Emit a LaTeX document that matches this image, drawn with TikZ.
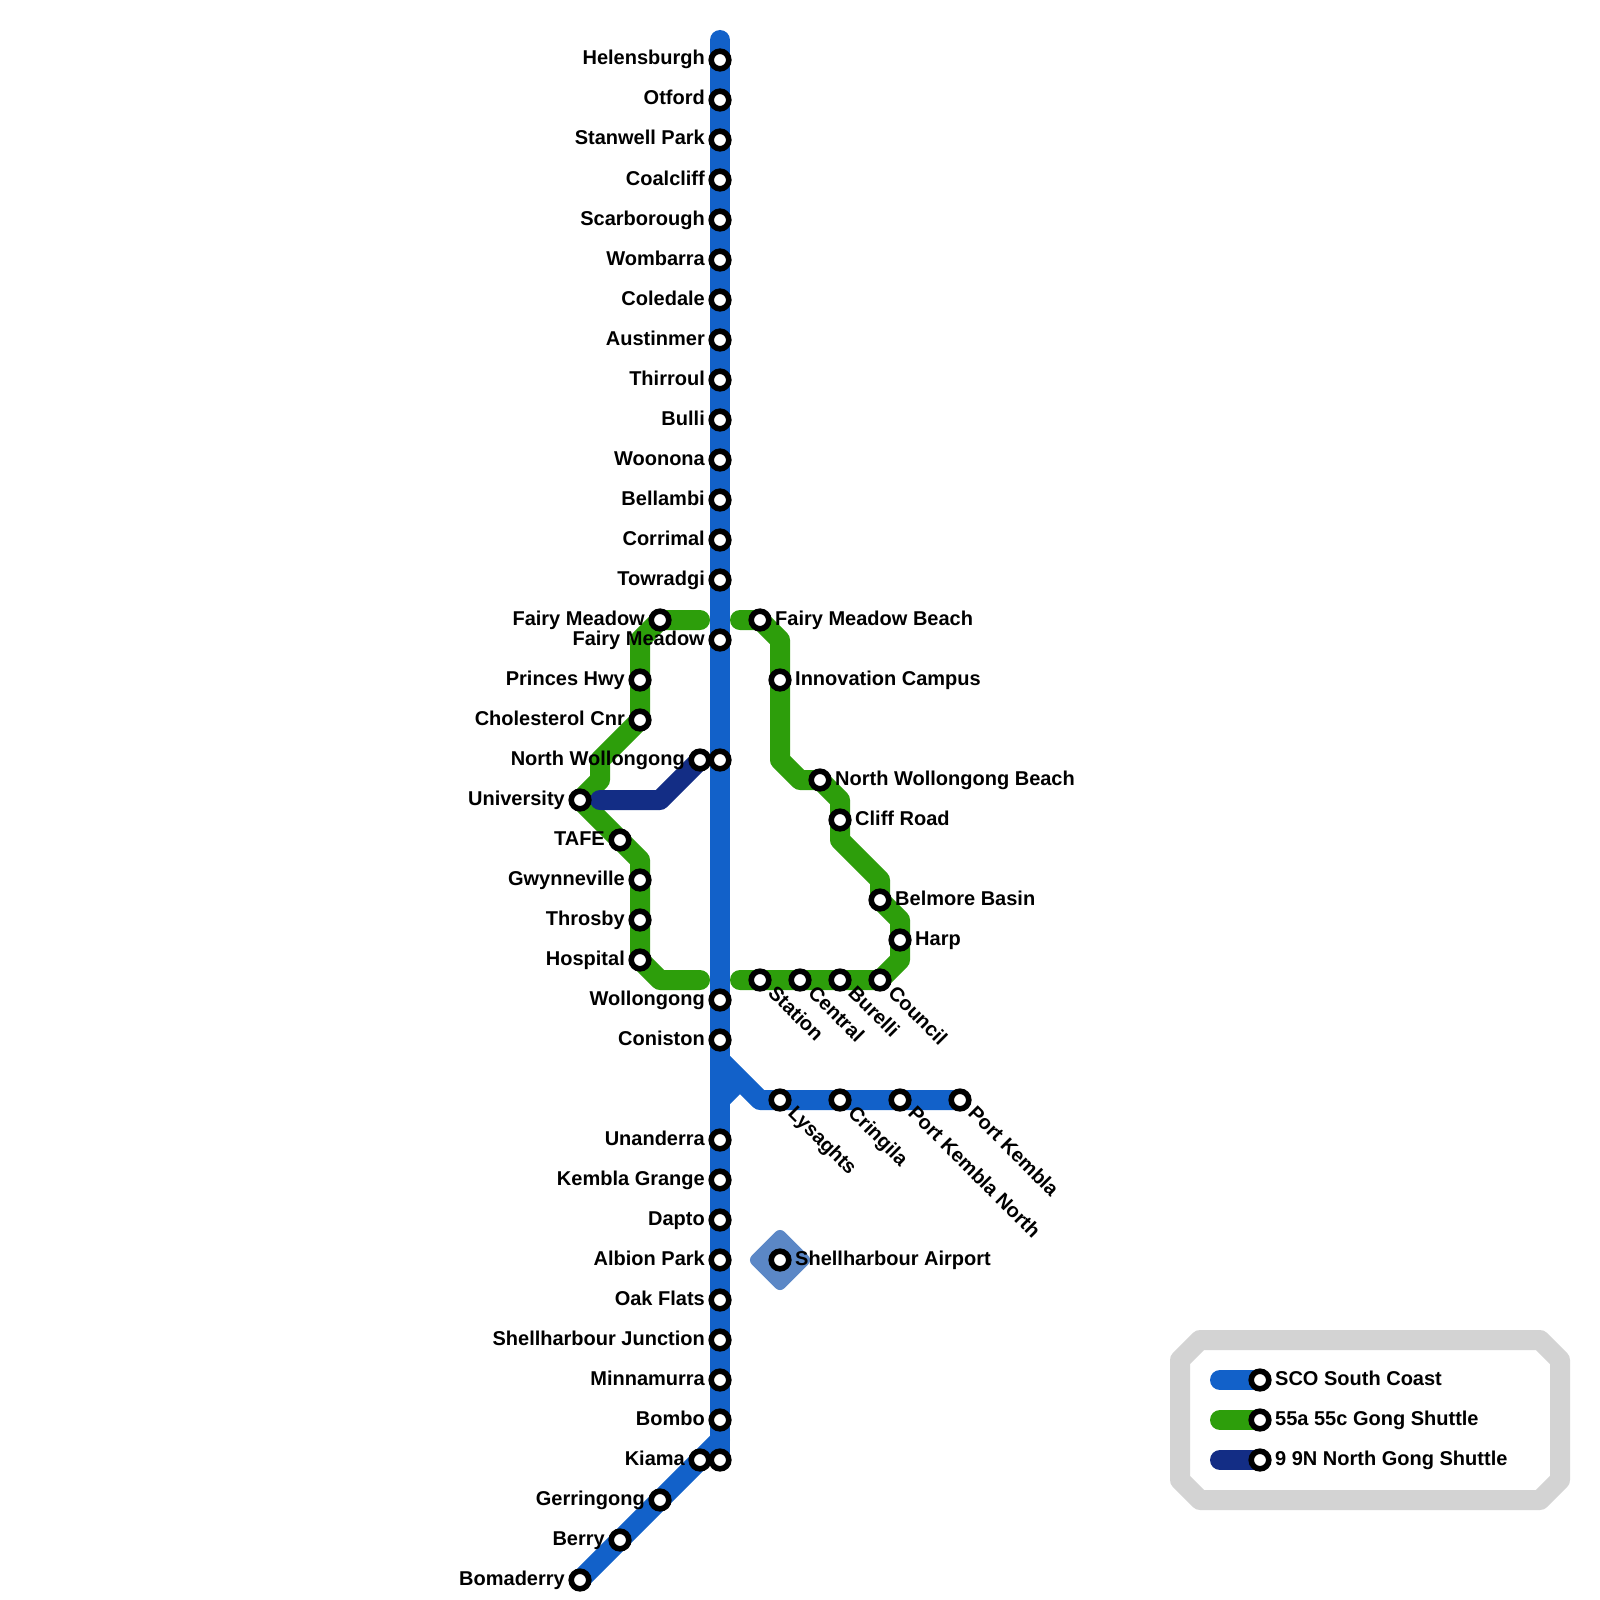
\documentclass[tikz,border=0pt]{standalone}
\usepackage{fontspec}
\setmainfont{Liberation Sans}
\definecolor{lblue}{HTML}{1261C9}
\definecolor{lgreen}{HTML}{2D9E0B}
\definecolor{lnavy}{HTML}{132D85}
\definecolor{lgray}{HTML}{D3D3D3}
\definecolor{ldiam}{HTML}{5B87C6}
\tikzset{
  route/.style={line width=20pt,line cap=round,line join=round},
  stn/.style={circle,draw=black,fill=white,line width=5.6pt,minimum size=17.6pt,inner sep=0pt,outer sep=0pt},
  lab/.style={inner sep=0pt,font=\bfseries\fontsize{20}{24}\selectfont,text=black},
}
\newcommand{\stpt}[3]{\coordinate (#1) at (#2,#3);}
\newcommand{\drawst}[1]{\node[stn] (s#1) at (#1) {};}
\newcommand{\lableft}[2]{\node[lab,anchor=base east] (l#1) at ([xshift=-15pt,yshift=-5pt]#1) {#2};}
\newcommand{\labright}[2]{\node[lab,anchor=base west] (l#1) at ([xshift=15pt,yshift=-5pt]#1) {#2};}
\newcommand{\labdiag}[2]{\node[lab,anchor=base west,rotate=-45] (l#1) at ([xshift=7.07pt,yshift=-14.14pt]#1) {#2};}
\begin{document}
\begin{tikzpicture}[x=1pt,y=-1pt]
\useasboundingbox (0,0) rectangle (1600,1600);
% bends and line ends
\coordinate (btop) at (720,40);
\coordinate (bk) at (720,1440);
\coordinate (bj) at (720,1060);
\coordinate (bc) at (760,1100);
\coordinate (bn1) at (720,1100);
\coordinate (bn2) at (740,1080);
\coordinate (g1) at (700,620);
\coordinate (g2) at (660,620);
\coordinate (g3) at (640,640);
\coordinate (g4) at (600,760);
\coordinate (g5) at (600,780);
\coordinate (g6) at (640,860);
\coordinate (g7) at (660,980);
\coordinate (g8) at (700,980);
\coordinate (h1) at (740,620);
\coordinate (h2) at (780,640);
\coordinate (h3) at (780,760);
\coordinate (h4) at (800,780);
\coordinate (h5) at (840,800);
\coordinate (h6) at (840,840);
\coordinate (h7) at (880,880);
\coordinate (h8) at (900,920);
\coordinate (h9) at (900,960);
\coordinate (h10) at (740,980);
\coordinate (n1) at (600,800);
\coordinate (n2) at (660,800);
\coordinate (e1) at (1220,1380);
\coordinate (e2) at (1220,1420);
\coordinate (e3) at (1220,1460);
% stations
\stpt{hel}{720}{60}\stpt{otf}{720}{100}\stpt{sta}{720}{140}\stpt{coa}{720}{180}
\stpt{sca}{720}{220}\stpt{wom}{720}{260}\stpt{col}{720}{300}\stpt{aus}{720}{340}
\stpt{thi}{720}{380}\stpt{bul}{720}{420}\stpt{woo}{720}{460}\stpt{bel}{720}{500}
\stpt{cor}{720}{540}\stpt{tow}{720}{580}\stpt{fai}{720}{640}\stpt{nwo}{720}{760}
\stpt{wol}{720}{1000}\stpt{con}{720}{1040}\stpt{una}{720}{1140}\stpt{kem}{720}{1180}
\stpt{dap}{720}{1220}\stpt{alb}{720}{1260}\stpt{oak}{720}{1300}\stpt{she}{720}{1340}
\stpt{min}{720}{1380}\stpt{bom}{720}{1420}\stpt{kia}{720}{1460}
\stpt{kib}{700}{1460}\stpt{ger}{660}{1500}\stpt{ber}{620}{1540}\stpt{bmd}{580}{1580}
\stpt{fml}{660}{620}\stpt{pri}{640}{680}\stpt{cho}{640}{720}\stpt{nwb}{700}{760}
\stpt{uni}{580}{800}\stpt{taf}{620}{840}\stpt{gwy}{640}{880}\stpt{thr}{640}{920}\stpt{hos}{640}{960}
\stpt{fmb}{760}{620}\stpt{inn}{780}{680}\stpt{nwe}{820}{780}\stpt{cli}{840}{820}
\stpt{bbs}{880}{900}\stpt{har}{900}{940}\stpt{cou}{880}{980}
\stpt{sat}{760}{980}\stpt{cen}{800}{980}\stpt{bur}{840}{980}
\stpt{lys}{780}{1100}\stpt{cri}{840}{1100}\stpt{pkn}{900}{1100}\stpt{pkb}{960}{1100}
\stpt{air}{780}{1260}
\stpt{k1}{1260}{1380}\stpt{k2}{1260}{1420}\stpt{k3}{1260}{1460}
% legend frame
\draw[lgray,line width=20pt,line join=round] (1200,1340) -- (1540,1340) -- (1560,1360) -- (1560,1480) -- (1540,1500) -- (1200,1500) -- (1180,1480) -- (1180,1360) -- cycle;
% airport diamond
\node[draw=none,fill=ldiam,rounded corners=6pt,minimum size=46pt,rotate=45,inner sep=0pt,outer sep=0pt] (dia) at (air) {};
% routes
\draw[route,lgreen] (g1) -- (g2) -- (g3) -- (cho) -- (g4) -- (g5) -- (uni) -- (g6) -- (hos) -- (g7) -- (g8);
\draw[route,lgreen] (h1) -- (fmb) -- (h2) -- (h3) -- (h4) -- (nwe) -- (h5) -- (h6) -- (h7) -- (bbs) -- (h8) -- (h9) -- (cou) -- (h10);
\draw[route,lnavy] (n1) -- (n2) -- (nwb);
\draw[route,lblue] (btop) -- (kia);
\draw[route,lblue] (bk) -- (bmd);
\draw[route,lblue] (bj) -- (bc) -- (pkb);
\draw[route,lblue,line cap=butt] (bn1) -- (bn2);
\draw[route,lblue] (e1) -- (k1);
\draw[route,lgreen] (e2) -- (k2);
\draw[route,lnavy] (e3) -- (k3);
% station markers
\foreach \s in {kib,nwb,hel,otf,sta,coa,sca,wom,col,aus,thi,bul,woo,bel,cor,tow,fai,nwo,wol,con,una,kem,dap,alb,oak,she,min,bom,kia,ger,ber,bmd,fml,pri,cho,uni,taf,gwy,thr,hos,fmb,inn,nwe,cli,bbs,har,cou,sat,cen,bur,lys,cri,pkn,pkb,air,k1,k2,k3}{\drawst{\s}}
% labels
\lableft{hel}{Helensburgh}\lableft{otf}{Otford}\lableft{sta}{Stanwell Park}\lableft{coa}{Coalcliff}
\lableft{sca}{Scarborough}\lableft{wom}{Wombarra}\lableft{col}{Coledale}\lableft{aus}{Austinmer}
\lableft{thi}{Thirroul}\lableft{bul}{Bulli}\lableft{woo}{Woonona}\lableft{bel}{Bellambi}
\lableft{cor}{Corrimal}\lableft{tow}{Towradgi}\lableft{fai}{Fairy Meadow}
\lableft{wol}{Wollongong}\lableft{con}{Coniston}\lableft{una}{Unanderra}\lableft{kem}{Kembla Grange}
\lableft{dap}{Dapto}\lableft{alb}{Albion Park}\lableft{oak}{Oak Flats}\lableft{she}{Shellharbour Junction}
\lableft{min}{Minnamurra}\lableft{bom}{Bombo}
\lableft{kib}{Kiama}\lableft{ger}{Gerringong}\lableft{ber}{Berry}\lableft{bmd}{Bomaderry}
\lableft{fml}{Fairy Meadow}\lableft{pri}{Princes Hwy}\lableft{cho}{Cholesterol Cnr}\lableft{nwb}{North Wollongong}
\lableft{uni}{University}\lableft{taf}{TAFE}\lableft{gwy}{Gwynneville}\lableft{thr}{Throsby}\lableft{hos}{Hospital}
\labright{fmb}{Fairy Meadow Beach}\labright{inn}{Innovation Campus}\labright{nwe}{North Wollongong Beach}
\labright{cli}{Cliff Road}\labright{bbs}{Belmore Basin}\labright{har}{Harp}\labright{air}{Shellharbour Airport}
\labdiag{sat}{Station}\labdiag{cen}{Central}\labdiag{bur}{Burelli}\labdiag{cou}{Council}
\labdiag{lys}{Lysaghts}\labdiag{cri}{Cringila}\labdiag{pkn}{Port Kembla North}\labdiag{pkb}{Port Kembla}
\labright{k1}{SCO South Coast}\labright{k2}{55a 55c Gong Shuttle}\labright{k3}{9 9N North Gong Shuttle}
\end{tikzpicture}
\end{document}
